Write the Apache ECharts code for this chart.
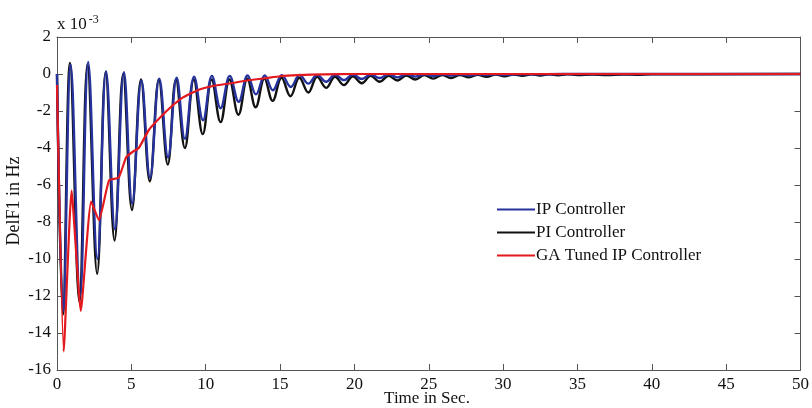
<!DOCTYPE html>
<html><head><meta charset="utf-8">
<script src="https://cdn.jsdelivr.net/npm/echarts@6/dist/echarts.min.js"></script>
<style>html,body{margin:0;padding:0;background:#fff}#c{width:812px;height:408px}</style>
</head><body><div id="c"></div>
<script>
const seriesNames = ['IP Controller', 'PI Controller', 'GA Tuned IP Controller'];
const xLabelTitle = 'Time in Sec.';
const yLabelTitle = 'DelF1 in Hz';

const tPI = [0,0.4,0.87,1.5,2.05,2.7,3.27,3.87,4.45,5.04,5.65,6.24,6.85,7.45,8.0,8.6,9.2,9.8,10.4,11.0,11.6,12.2,12.8,13.36,13.95,14.5,15.1,15.7,16.3,16.9,17.5,18.1,18.7,19.3,19.9,20.5,21.1,21.7,22.3,22.9,23.5,24.1,24.7,25.3,25.9,26.5,27.1,27.7,28.3,28.9,29.5,30.1,30.7,31.3,31.9,32.5,33.1,33.7,34.3,35,36,37,38,39,40,50];
const vPI = [0,-13.0,0.6,-12.3,0.55,-10.8,0.1,-9.0,0.0,-7.35,-0.3,-5.8,-0.3,-4.9,-0.3,-4.0,-0.3,-3.25,-0.3,-2.6,-0.3,-2.2,-0.25,-1.8,-0.25,-1.45,-0.2,-1.2,-0.2,-1.0,-0.15,-0.75,-0.15,-0.6,-0.12,-0.5,-0.1,-0.42,-0.1,-0.35,-0.08,-0.3,-0.06,-0.25,-0.05,-0.22,-0.05,-0.18,-0.04,-0.15,-0.03,-0.12,-0.03,-0.1,-0.02,-0.08,-0.02,-0.07,-0.02,-0.05,-0.03,-0.05,-0.03,-0.04,-0.02,0];

const tIP = [0,0.42,0.92,1.55,2.1,2.72,3.3,3.9,4.5,5.06,5.68,6.26,6.88,7.47,8.05,8.6,9.22,9.82,10.42,11.0,11.62,12.22,12.82,13.38,13.97,14.52,15.12,15.72,16.32,16.9,17.5,18.1,18.7,19.3,19.9,20.5,21.1,21.7,22.3,22.9,23.5,24.1,24.7,25.3,25.9,26.5,27.1,27.7,28.3,28.9,29.5,30.1,31,33,35,40,50];
const vIP = [0,-12.8,0.5,-12.0,0.65,-10.0,0.15,-8.4,0.1,-7.0,-0.35,-5.6,-0.25,-4.5,-0.2,-3.5,-0.15,-2.5,-0.1,-1.85,-0.1,-1.5,-0.08,-1.1,-0.08,-0.88,-0.06,-0.7,-0.05,-0.52,-0.05,-0.42,-0.04,-0.33,-0.03,-0.27,-0.03,-0.22,-0.02,-0.18,-0.02,-0.14,-0.02,-0.11,-0.01,-0.09,-0.01,-0.07,-0.01,-0.05,-0.01,-0.04,-0.02,-0.01,0,0,0];

const tGA = [0,0.45,0.98,1.6,2.3,2.82,3.5,4.15,4.65,5.1,5.5,6.2,7.3,8.4,9.5,10.5,11.7,12.8,14,15,16.2,18,20,25,50];
const vGA = [-0.6,-15.0,-6.3,-12.8,-6.9,-7.9,-5.75,-5.6,-4.5,-4.2,-4.0,-3.0,-2.05,-1.3,-0.86,-0.65,-0.5,-0.35,-0.23,-0.12,-0.06,-0.02,0,0,0];

const zip = (t, v) => t.map((x, i) => [x, v[i]]);
const serif = 'Liberation Serif';
const axisCol = '#555';

const chart = echarts.init(document.getElementById('c'), null, {renderer: 'canvas'});
const baseX = {type: 'value', min: 0, max: 50, interval: 5,
  axisLine: {show: true, onZero: false, lineStyle: {color: axisCol, width: 1}},
  axisTick: {show: true, inside: true, length: 6, lineStyle: {color: axisCol}},
  splitLine: {show: false}};
const baseY = {type: 'value', min: -16, max: 2, interval: 2,
  axisLine: {show: true, onZero: false, lineStyle: {color: axisCol, width: 1}},
  axisTick: {show: true, inside: true, length: 6, lineStyle: {color: axisCol}},
  splitLine: {show: false}};
chart.setOption({
  animation: false,
  backgroundColor: '#fff',
  grid: {left: 57, right: 6, top: 37, bottom: 38, containLabel: false},
  xAxis: [
    Object.assign({}, baseX, {position: 'bottom',
      axisLabel: {show: true, margin: 6, color: '#111', fontFamily: serif, fontSize: 17}}),
    Object.assign({}, baseX, {position: 'top', axisLabel: {show: false}})
  ],
  yAxis: [
    Object.assign({}, baseY, {position: 'left',
      axisLabel: {show: true, margin: 6, color: '#111', fontFamily: serif, fontSize: 17}}),
    Object.assign({}, baseY, {position: 'right', axisLabel: {show: false}})
  ],
  legend: {
    data: seriesNames, orient: 'vertical', left: 497, top: 201, itemGap: 6, padding: 0,
    icon: 'rect', itemWidth: 38, itemHeight: 2,
    textStyle: {fontFamily: serif, fontSize: 17, color: '#111', padding: [0,0,0,-4]}
  },
  graphic: [
    {type: 'text', left: 57, top: 14, style: {
      text: '{a|x 10}{s|-3}', fill: '#111',
      rich: {a: {fontFamily: serif, fontSize: 17, fill: '#111'},
             s: {fontFamily: serif, fontSize: 12, fill: '#111', verticalAlign: 'top', padding: [0,0,10,2]}}}},
    {type: 'text', x: 14, y: 201, rotation: Math.PI / 2, style: {
      text: yLabelTitle, fontFamily: serif, fontSize: 18, fill: '#111', align: 'center', verticalAlign: 'middle'}},
    {type: 'text', x: 427, y: 399, style: {
      text: xLabelTitle, fontFamily: serif, fontSize: 17, fill: '#111', align: 'center', verticalAlign: 'middle'}}
  ],
  series: [
    {name: seriesNames[1], type: 'line', data: zip(tPI, vPI), showSymbol: false, symbol: 'none', smooth: 0.4,
      lineStyle: {color: '#111111', width: 2.4}, itemStyle: {color: '#111111'}, z: 2},
    {name: seriesNames[0], type: 'line', data: zip(tIP, vIP), showSymbol: false, symbol: 'none', smooth: 0.4,
      lineStyle: {color: '#26339c', width: 2.4}, itemStyle: {color: '#26339c'}, z: 3},
    {name: seriesNames[2], type: 'line', data: zip(tGA, vGA), showSymbol: false, symbol: 'none', smooth: 0.15,
      lineStyle: {color: '#e3191e', width: 2.2}, itemStyle: {color: '#e3191e'}, z: 4}
  ]
});
</script>
</body></html>
